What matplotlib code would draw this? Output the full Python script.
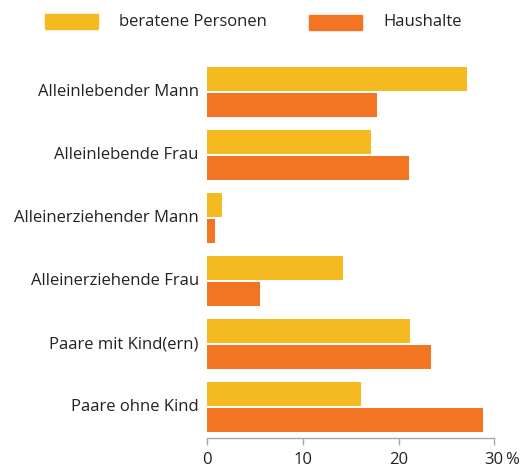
import numpy as np
import matplotlib.pyplot as plt
from matplotlib.patches import Rectangle

categories = ["Alleinlebender Mann", "Alleinlebende Frau", "Alleinerziehender Mann",
              "Alleinerziehende Frau", "Paare mit Kind(ern)", "Paare ohne Kind"]
beratene = [27.1, 17.1, 1.6, 14.2, 21.2, 16.1]
haushalte = [17.8, 21.1, 0.8, 5.5, 23.4, 28.8]
xticks = [0, 10, 20, 30]

YELLOW = "#F5BA1F"
ORANGE = "#F37422"
GREY = "#A8A8A8"
TEXT = "#222222"

plt.rcParams["font.family"] = ["Open Sans", "DejaVu Sans"]

fig = plt.figure(figsize=(5.24, 4.68), dpi=100)
ax = fig.add_axes([0.395, 0.0641, 0.5483, 0.8141])

y = np.arange(len(categories))
h = 0.381
ax.barh(y - 0.206, beratene, height=h, color=YELLOW)
ax.barh(y + 0.206, haushalte, height=h, color=ORANGE)

ax.set_xlim(0, 30)
ax.set_ylim(5.49, -0.55)
ax.set_yticks(y)
ax.set_yticklabels(categories, fontsize=12, color=TEXT, va="bottom")
ax.tick_params(axis="y", length=0, pad=6)
for lbl in ax.get_yticklabels():
    lbl.set_va("center")
ax.set_xticks(xticks)
ax.set_xticklabels([str(t) for t in xticks], fontsize=12, color=TEXT)
ax.tick_params(axis="x", direction="out", length=5, width=1.0, color=GREY, pad=5)
# unit sign next to the last tick label
ax.annotate("%", xy=(30, 0), xycoords=("data", "axes fraction"),
            xytext=(7.5, -10), textcoords="offset points",
            fontsize=12, color=TEXT, ha="left", va="top")

for side in ["top", "right", "left"]:
    ax.spines[side].set_visible(False)
ax.spines["bottom"].set_color(GREY)
ax.spines["bottom"].set_linewidth(1.0)

# legend drawn by hand across the top
fig.patches.append(Rectangle((45 / 524, 1 - 29 / 468), 53 / 524, 15 / 468,
                             transform=fig.transFigure, color=YELLOW))
fig.text(119 / 524, 1 - 22 / 468, "beratene Personen", fontsize=12, color=TEXT, va="center")
fig.patches.append(Rectangle((309 / 524, 1 - 30 / 468), 53 / 524, 15 / 468,
                             transform=fig.transFigure, color=ORANGE))
fig.text(383 / 524, 1 - 22 / 468, "Haushalte", fontsize=12, color=TEXT, va="center")

fig.savefig("out.png", dpi=100)
